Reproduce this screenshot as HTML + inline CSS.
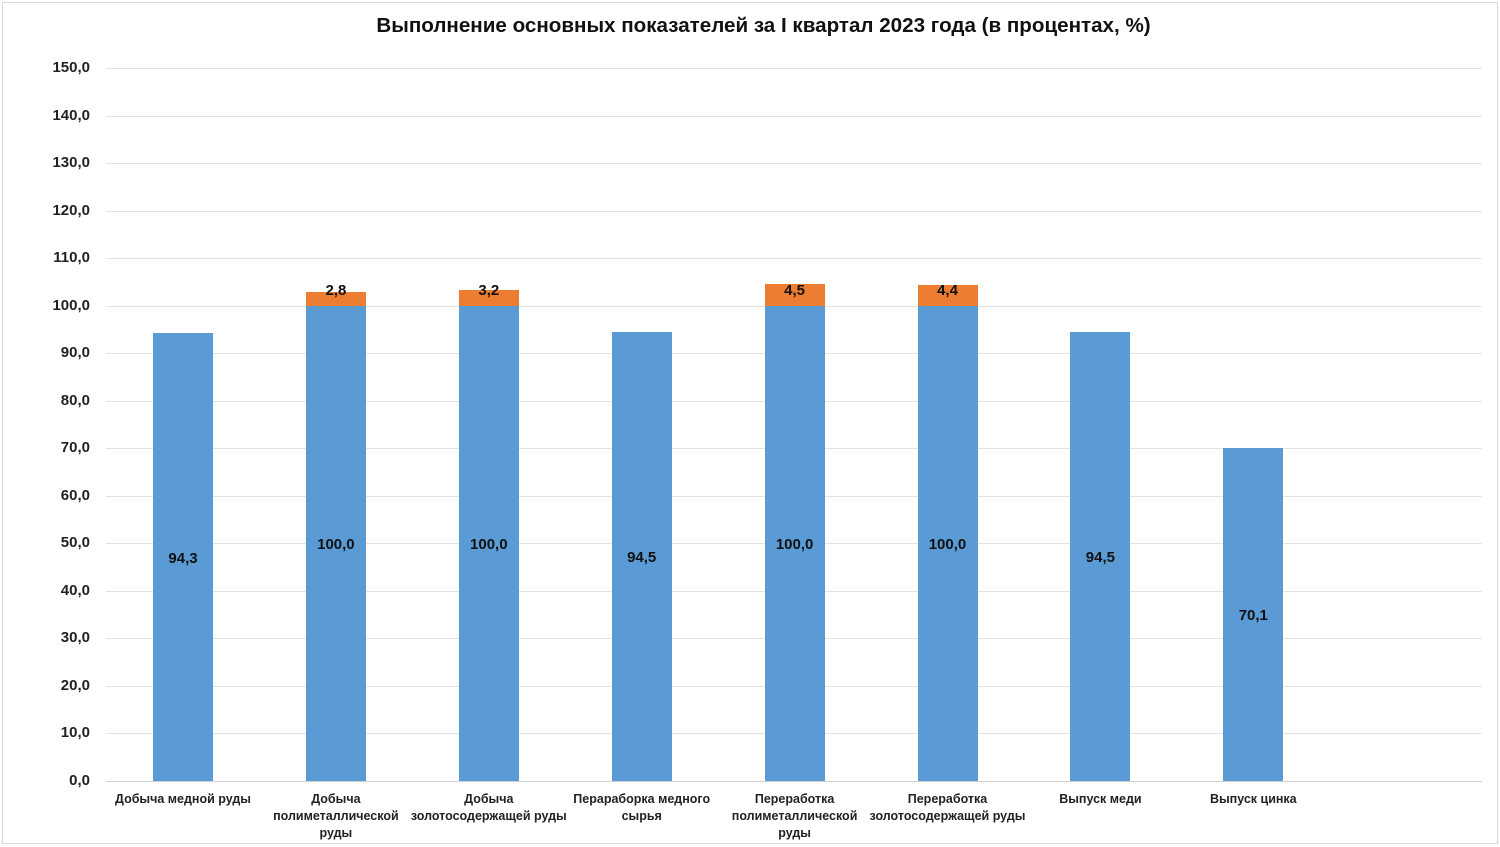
<!DOCTYPE html><html><head><meta charset="utf-8"><style>
body{margin:0;width:1500px;height:847px;background:#fff;font-family:"Liberation Sans","DejaVu Sans",sans-serif;position:relative;overflow:hidden}
.b{position:absolute}
.g{position:absolute;left:106px;width:1376px;height:1px;background:#e2e2e2}
.yl{position:absolute;left:20px;width:70px;text-align:right;font-size:15px;font-weight:bold;color:#222}
.bar{position:absolute;width:60px;background:#5b9bd5}
.or{position:absolute;width:60px;background:#ed7d31}
.v{position:absolute;width:100px;text-align:center;font-size:15px;font-weight:bold;color:#111}
.c{position:absolute;width:180px;text-align:center;font-size:12.5px;font-weight:bold;color:#222;line-height:17px;top:791px}
</style></head><body>
<div class="b" style="left:2px;top:2px;width:1494px;height:840px;border:1px solid #d9d9d9"></div>
<div class="b" style="left:0;top:14px;width:1527px;text-align:center;font-size:20.6px;font-weight:bold;color:#111">Выполнение основных показателей за I квартал 2023 года (в процентах, %)</div>
<script>
let h='';
for(let i=0;i<=15;i++){const y=781-i*47.53;h+=`<div class="g" style="top:${y}px;${i==0?'background:#d0d0d0':''}"></div><div class="yl" style="top:${y-9}px">${i*10},0</div>`;}
const d=[[94.3,0,"Добыча медной руды"],[100,2.8,"Добыча<br>полиметаллической<br>руды"],[100,3.2,"Добыча<br>золотосодержащей руды"],[94.5,0,"Перараборка медного<br>сырья"],[100,4.5,"Переработка<br>полиметаллической<br>руды"],[100,4.4,"Переработка<br>золотосодержащей руды"],[94.5,0,"Выпуск меди"],[70.1,0,"Выпуск цинка"]];
const k=4.753;
d.forEach((e,i)=>{const cx=183+i*152.9;const bt=781-e[0]*k;
h+=`<div class="bar" style="left:${cx-30}px;top:${bt}px;height:${e[0]*k}px"></div>`;
h+=`<div class="v" style="left:${cx-50}px;top:${781-e[0]*k/2-7}px">${e[0].toFixed(1).replace('.',',')}</div>`;
if(e[1]){const ot=bt-e[1]*k;h+=`<div class="or" style="left:${cx-30}px;top:${ot}px;height:${e[1]*k}px"></div><div class="v" style="left:${cx-50}px;top:282px">${e[1].toFixed(1).replace('.',',')}</div>`;}
h+=`<div class="c" style="left:${cx-90}px">${e[2]}</div>`;});
document.write(h);
</script>
</body></html>
